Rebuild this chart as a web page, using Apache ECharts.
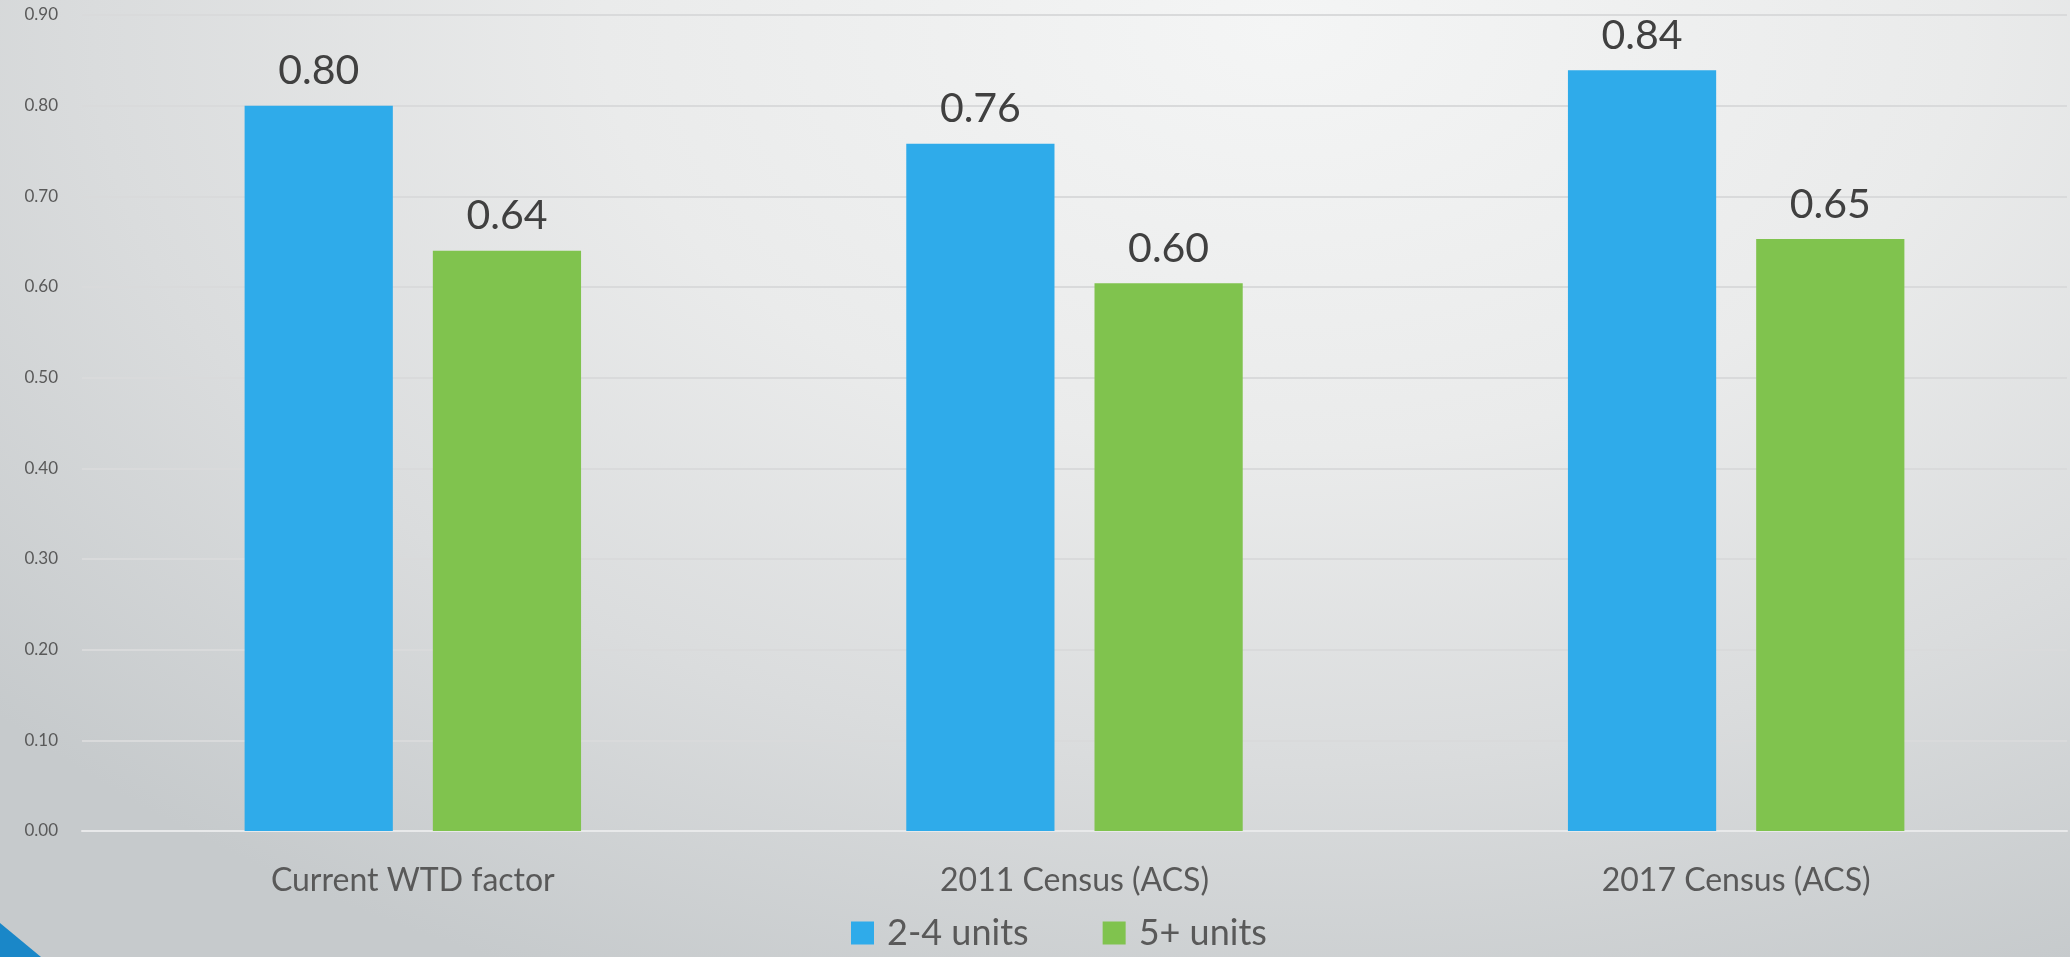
<!DOCTYPE html>
<html>
<head>
<meta charset="utf-8">
<script src="https://cdn.jsdelivr.net/npm/echarts@6/dist/echarts.min.js"></script>
<style>
html,body{margin:0;padding:0;width:2070px;height:957px;overflow:hidden;}
#c{width:2070px;height:957px;
  background: radial-gradient(ellipse 1700px 1050px at 62% 3%, #f4f5f5 0%, #eaebeb 40%, #dadcdd 70%, #c6cacc 100%);}
</style>
</head>
<body>
<div id="c"></div>
<script>
const categories = ['Current WTD factor', '2011 Census (ACS)', '2017 Census (ACS)'];
const seriesNames = ['2-4 units', '5+ units'];
const units24 = [0.80, 0.758, 0.839];
const units5p = [0.64, 0.604, 0.653];
const yTicks = { min: 0, max: 0.9, interval: 0.1 };

const chart = echarts.init(document.getElementById('c'));
const fontFam = 'Lato, "Open Sans", sans-serif';
const labelStyle = {
  show: true, position: 'top', distance: 14,
  formatter: p => p.value.toFixed(2),
  color: '#404040', fontSize: 41, fontFamily: fontFam
};
chart.setOption({
  backgroundColor: 'transparent',
  graphic: [{
    type: 'polygon',
    shape: { points: [[0, 923], [41, 957], [0, 957]] },
    style: { fill: '#1a87c8' }
  }],
  grid: { left: 82, right: 3, top: 15, bottom: 126 },
  legend: {
    data: seriesNames,
    bottom: 1,
    left: 846,
    itemWidth: 23, itemHeight: 23, itemGap: 74,
    icon: 'rect',
    textStyle: { color: '#595959', fontSize: 36, fontFamily: fontFam, padding: [0, 0, 0, 8] }
  },
  xAxis: {
    type: 'category', data: categories,
    axisLine: { lineStyle: { color: '#e8e9ea', width: 2 } },
    axisTick: { show: false },
    axisLabel: { color: '#595959', fontSize: 32, fontFamily: fontFam, margin: 34 }
  },
  yAxis: {
    type: 'value', min: yTicks.min, max: yTicks.max, interval: yTicks.interval,
    axisLabel: { color: '#595959', fontSize: 17, fontFamily: fontFam, margin: 24, formatter: v => v.toFixed(2) },
    splitLine: { lineStyle: { color: '#d9dadb', width: 2 } },
    axisLine: { show: false }, axisTick: { show: false }
  },
  series: [
    { name: seriesNames[0], type: 'bar', data: units24, barWidth: '22.4%', barGap: '27%',
      itemStyle: { color: '#2fabea' }, label: labelStyle },
    { name: seriesNames[1], type: 'bar', data: units5p, barWidth: '22.4%',
      itemStyle: { color: '#80c34e' }, label: labelStyle }
  ]
});
</script>
</body>
</html>
